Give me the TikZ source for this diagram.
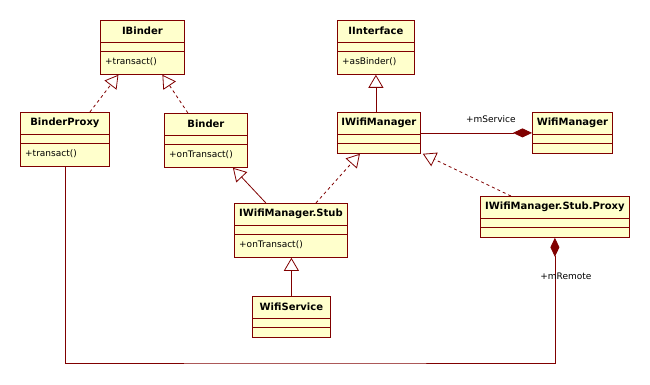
\documentclass[tikz,border=0pt]{standalone}
\usepackage{fontspec}
\setmainfont{DejaVu Sans}
\usetikzlibrary{arrows.meta,calc}
\definecolor{umlred}{RGB}{128,0,0}
\definecolor{umlyellow}{RGB}{255,255,204}

\begin{document}
\begin{tikzpicture}[x=1pt, y=-1pt,
  cls/.style={draw=umlred, fill=umlyellow, line width=0.8pt, anchor=north west, inner sep=0pt},
  ttl/.style={font=\fontsize{10}{12}\selectfont\bfseries, inner sep=0pt},
  op/.style={font=\fontsize{9}{11}\selectfont, inner sep=0pt, anchor=west},
  lbl/.style={font=\fontsize{9}{11}\selectfont, inner sep=0pt},
  gen/.style={draw=umlred, line width=0.8pt, -{Triangle[length=13pt, width=15pt, fill=white]}},
  real/.style={gen, dash pattern=on 3pt off 3pt},
  comp/.style={draw=umlred, line width=0.8pt, -{Diamond[length=19pt, width=9pt, fill=umlred]}}]
\fill[white] (0,0) rectangle (650,385);
\useasboundingbox (0,0) rectangle (650,385);
% classes
\node[cls, minimum width=84pt, minimum height=54pt] (ibinder) at (100,20) {};
\node[cls, minimum width=89pt, minimum height=54pt] (binderproxy) at (20,112) {};
\node[cls, minimum width=83pt, minimum height=54pt] (binder) at (164,113) {};
\node[cls, minimum width=77pt, minimum height=54pt] (iinterface) at (337,20) {};
\node[cls, minimum width=83pt, minimum height=41pt] (iwifimanager) at (337,112) {};
\node[cls, minimum width=80pt, minimum height=41pt] (wifimanager) at (532,112) {};
\node[cls, minimum width=113pt, minimum height=54pt] (stub) at (234,203) {};
\node[cls, minimum width=78pt, minimum height=41pt] (wifiservice) at (252,296) {};
\node[cls, minimum width=149pt, minimum height=41pt] (proxy) at (480,196) {};
\foreach \c in {ibinder,binderproxy,binder,iinterface,iwifimanager,wifimanager,stub,wifiservice,proxy} {
  \draw[umlred, line width=0.8pt] ($(\c.north west)+(0,22)$) -- ($(\c.north east)+(0,22)$);
  \draw[umlred, line width=0.8pt] ($(\c.north west)+(0,31)$) -- ($(\c.north east)+(0,31)$);
}
% names and operations
\node[ttl] (ibindername) at ($(ibinder.north)+(0,11)$) {IBinder};
\node[op] (ibinderop) at ($(ibinder.north west)+(5,42)$) {+transact()};
\node[ttl] (binderproxyname) at ($(binderproxy.north)+(0,11)$) {BinderProxy};
\node[op] (binderproxyop) at ($(binderproxy.north west)+(5,42)$) {+transact()};
\node[ttl] (bindername) at ($(binder.north)+(0,11)$) {Binder};
\node[op] (binderop) at ($(binder.north west)+(5,42)$) {+onTransact()};
\node[ttl] (iinterfacename) at ($(iinterface.north)+(0,11)$) {IInterface};
\node[op] (iinterfaceop) at ($(iinterface.north west)+(5,42)$) {+asBinder()};
\node[ttl] (iwifimanagername) at ($(iwifimanager.north)+(0,11)$) {IWifiManager};
\node[ttl] (wifimanagername) at ($(wifimanager.north)+(0,11)$) {WifiManager};
\node[ttl] (stubname) at ($(stub.north)+(0,11)$) {IWifiManager.Stub};
\node[op] (stubop) at ($(stub.north west)+(5,42)$) {+onTransact()};
\node[ttl] (wifiservicename) at ($(wifiservice.north)+(0,11)$) {WifiService};
\node[ttl] (proxyname) at ($(proxy.north)+(0,11)$) {IWifiManager.Stub.Proxy};
% relations
\draw[real] ($(binderproxy.north)+(25,0)$) -- ($(ibinder.south)+(-24,0)$);
\draw[real] ($(binder.north)+(-18,0)$) -- ($(ibinder.south)+(20,0)$);
\draw[gen] (iwifimanager.north -| iinterface.south) -- (iinterface.south);
\draw[comp] (iwifimanager.east) -- (wifimanager.west);
\node[lbl] (mservice) at ($(iwifimanager.east)+(70,-14)$) {+mService};
\draw[gen] ($(stub.north)+(-25,0)$) -- ($(binder.south)+(27,0)$);
\draw[real] ($(stub.north)+(25,0)$) -- ($(iwifimanager.south)+(-19,0)$);
\draw[real] ($(proxy.north)+(-44,0)$) -- ($(iwifimanager.south east)+(2,0)$);
\draw[gen] (wifiservice.north) -- (wifiservice.north |- stub.south);
\coordinate (bend) at (300,363);
\draw[comp] (binderproxy.south) |- (bend) -| (proxy.south);
\node[lbl] (mremote) at ($(proxy.south)+(11,38)$) {+mRemote};
\end{tikzpicture}
\end{document}
